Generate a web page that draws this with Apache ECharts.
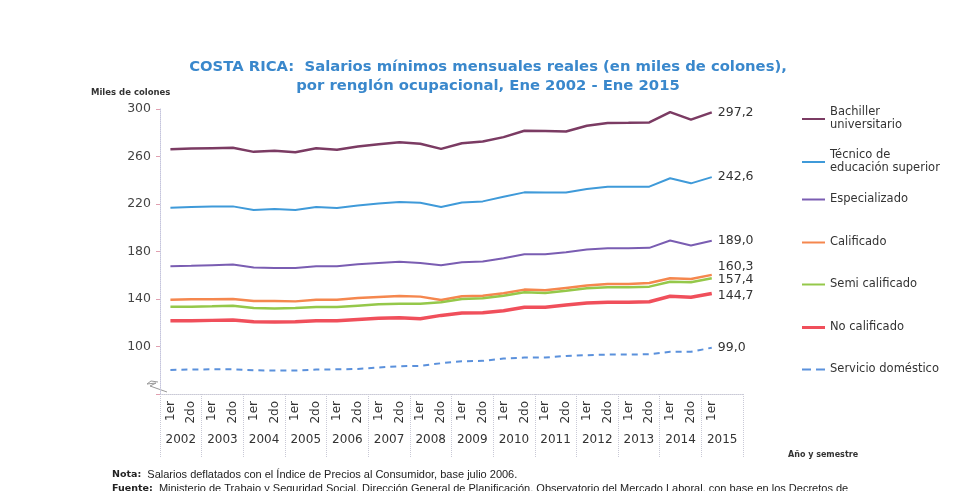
<!DOCTYPE html>
<html>
<head>
<meta charset="utf-8">
<script src="https://cdn.jsdelivr.net/npm/echarts@6/dist/echarts.min.js"></script>
<style>
  html, body { margin: 0; padding: 0; background: #fff; }
  #chart { width: 961px; height: 491px; }
</style>
</head>
<body>
<div id="chart"></div>
<script>
// semestres: 2002-1er ... 2015-1er (27 puntos), la última celda de 2015 queda vacía
const semesters = []
for (let y = 2002; y <= 2015; y++) {
  semesters.push('1er')
  semesters.push(y === 2015 ? '' : '2do')
}
const years = ['2002', '2003', '2004', '2005', '2006', '2007', '2008',
  '2009', '2010', '2011', '2012', '2013', '2014', '2015']

const bachiller = [266.2, 266.7, 267.0, 267.3, 263.9, 264.8, 263.6, 267.0, 265.6, 268.4,
  270.4, 272.1, 270.7, 266.4, 271.2, 272.6, 276.3, 281.7, 281.4, 281.1,
  285.9, 288.2, 288.4, 288.7, 297.4, 291.0, 297.2]
const tecnico = [216.8, 217.4, 217.8, 218.0, 214.9, 215.7, 214.9, 217.4, 216.6, 218.8,
  220.5, 221.6, 221.1, 217.4, 221.3, 222.2, 226.1, 229.8, 229.6, 229.6,
  232.6, 234.6, 234.6, 234.6, 241.7, 237.4, 242.6]
const especializado = [167.6, 167.9, 168.5, 169.0, 166.5, 166.2, 166.2, 167.6, 167.6, 169.3,
  170.4, 171.3, 170.4, 168.5, 171.0, 171.5, 174.4, 177.7, 177.7, 179.4,
  181.7, 182.8, 182.8, 183.1, 189.3, 185.1, 189.0]
const calificado = [139.4, 139.7, 139.7, 140.0, 138.3, 138.3, 138.0, 139.4, 139.4, 140.8,
  141.7, 142.5, 142.0, 139.2, 142.3, 142.8, 144.8, 147.9, 147.3, 149.3,
  151.3, 152.7, 152.7, 153.5, 157.5, 156.9, 160.3]
const semiCalificado = [133.5, 133.5, 133.8, 134.4, 132.4, 132.1, 132.4, 133.2, 133.2, 134.4,
  135.5, 136.1, 136.1, 137.2, 140.0, 140.6, 142.8, 145.6, 145.1, 147.0,
  149.0, 149.9, 149.9, 150.4, 154.6, 154.1, 157.4]
const noCalificado = [121.7, 121.7, 122.0, 122.3, 120.8, 120.6, 120.8, 121.7, 121.7, 122.8,
  123.7, 124.2, 123.4, 126.2, 128.2, 128.5, 130.1, 133.0, 133.0, 134.9,
  136.6, 137.2, 137.2, 137.7, 142.3, 141.4, 144.7]
const domestico = [80.3, 80.6, 80.8, 80.8, 80.0, 79.7, 79.7, 80.6, 80.8, 81.1,
  82.3, 83.4, 83.7, 85.9, 87.6, 87.9, 89.9, 90.7, 90.7, 92.1,
  92.7, 93.2, 93.2, 93.5, 95.5, 95.5, 99.0]

const yTicks = [100, 140, 180, 220, 260, 300]

const FONT = '"DejaVu Sans", Verdana, sans-serif'
const NOTE_FONT = '"Liberation Sans", Arial, sans-serif'
const fmtComma = v => v.toFixed(1).replace('.', ',')

function makeSeries(name, data, color, width, dashed, labelOffset) {
  return {
    name: name,
    type: 'line',
    xAxisIndex: 0,
    data: data,
    symbol: 'none',
    lineStyle: { color: color, width: width, type: dashed ? [6, 5] : 'solid' },
    itemStyle: { color: color },
    endLabel: {
      show: true,
      formatter: p => fmtComma(p.value),
      color: '#333',
      fontFamily: FONT,
      fontSize: 12.5,
      distance: 6,
      offset: labelOffset || [0, 0]
    },
    emphasis: { disabled: true },
    silent: true
  }
}

const series = [
  makeSeries('Bachiller universitario', bachiller, '#7b3b63', 2.5),
  makeSeries('Técnico de educación superior', tecnico, '#3f9ad9', 2),
  makeSeries('Especializado', especializado, '#7a5db2', 2),
  makeSeries('Calificado', calificado, '#f5874e', 2.5, false, [0, -8]),
  makeSeries('Semi calificado', semiCalificado, '#95c84a', 2.5, false, [0, 1]),
  makeSeries('No calificado', noCalificado, '#f04f5b', 3.5, false, [0, 2]),
  makeSeries('Servicio doméstico', domestico, '#5b91dc', 2, true)
]

// leyenda a la derecha, cada entrada en su posición
const legendTops = [101, 144, 188, 231, 273, 316, 358]
const legendWrap = {
  'Bachiller universitario': 'Bachiller\nuniversitario',
  'Técnico de educación superior': 'Técnico de\neducación superior'
}
const DASH_ICON = 'path://M0,0h9v2h-9z M14,0h9v2h-9z'
const legends = series.map((s, i) => ({
  data: [s.name],
  left: 797,
  top: legendTops[i],
  icon: s.lineStyle.type === 'solid' ? 'rect' : DASH_ICON,
  itemWidth: 23,
  itemHeight: s.lineStyle.type === 'solid' ? Math.max(2, Math.round(s.lineStyle.width * 0.9)) : 2,
  itemStyle: { color: s.lineStyle.color },
  lineStyle: { width: 0 },
  selectedMode: false,
  formatter: n => legendWrap[n] || n,
  textStyle: { color: '#333', fontFamily: FONT, fontSize: 11.5, lineHeight: 13 }
}))

const chart = echarts.init(document.getElementById('chart'))
chart.setOption({
  backgroundColor: '#ffffff',
  animation: false,
  title: [
    {
      text: 'COSTA RICA:  Salarios mínimos mensuales reales (en miles de colones),\npor renglón ocupacional, Ene 2002 - Ene 2015',
      left: 483,
      top: 53,
      textAlign: 'center',
      textStyle: { color: '#3a88cc', fontFamily: FONT, fontWeight: 'bold', fontSize: 14.8, lineHeight: 19 }
    },
    {
      text: 'Miles de colones',
      left: 86,
      top: 83,
      textStyle: { color: '#333', fontFamily: FONT, fontWeight: 'bold', fontSize: 8.5 }
    },
    {
      text: 'Año y semestre',
      left: 783,
      top: 446,
      textStyle: { color: '#333', fontFamily: FONT, fontWeight: 'bold', fontSize: 8 }
    },
    {
      text: '{b|Nota:}  Salarios deflatados con el Índice de Precios al Consumidor, base julio 2006.',
      left: 107,
      top: 464,
      textStyle: {
        color: '#222', fontFamily: NOTE_FONT, fontWeight: 'normal', fontSize: 11,
        rich: { b: { fontFamily: FONT, fontWeight: 'bold', fontSize: 9.5, color: '#222' } }
      }
    },
    {
      text: '{b|Fuente:}  Ministerio de Trabajo y Seguridad Social, Dirección General de Planificación, Observatorio del Mercado Laboral, con base en los Decretos de',
      left: 107,
      top: 478,
      textStyle: {
        color: '#222', fontFamily: NOTE_FONT, fontWeight: 'normal', fontSize: 11,
        rich: { b: { fontFamily: FONT, fontWeight: 'bold', fontSize: 9.5, color: '#222' } }
      }
    }
  ],
  legend: legends,
  grid: { left: 160, right: 218, top: 109, bottom: 97, containLabel: false },
  xAxis: [
    {
      type: 'category',
      data: semesters,
      boundaryGap: true,
      position: 'bottom',
      axisLine: { show: true, lineStyle: { color: '#c9c9d6', type: 'dotted', width: 1 } },
      axisTick: { show: false },
      axisLabel: {
        interval: 0, rotate: 90, margin: 7,
        color: '#333', fontFamily: FONT, fontSize: 12
      },
      splitLine: { show: false }
    },
    {
      type: 'category',
      data: years,
      boundaryGap: true,
      position: 'bottom',
      axisLine: { show: false },
      axisTick: { show: true, interval: 0, length: 64, lineStyle: { color: '#c9c9d6', type: 'dotted' } },
      axisLabel: { interval: 0, margin: 40, color: '#333', fontFamily: FONT, fontSize: 12 },
      splitLine: { show: false }
    }
  ],
  yAxis: {
    type: 'value',
    min: 60,
    max: 300,
    interval: 40,
    axisLine: { show: true, lineStyle: { color: '#c4c4dc', type: 'dotted' } },
    axisTick: { show: true, length: 4, lineStyle: { color: '#e0a0b0' } },
    axisLabel: {
      margin: 9,
      color: '#444',
      fontFamily: FONT,
      fontSize: 12.5,
      formatter: v => (yTicks.indexOf(v) >= 0 ? String(v) : '')
    },
    splitLine: { show: false }
  },
  graphic: [
    {
      type: 'polyline',
      silent: true,
      shape: { points: [[167, 392], [150, 386], [156, 383], [147, 384], [151, 381], [158, 382]] },
      style: { stroke: '#999', fill: null, lineWidth: 1 }
    }
  ],
  series: series
})
</script>
</body>
</html>
